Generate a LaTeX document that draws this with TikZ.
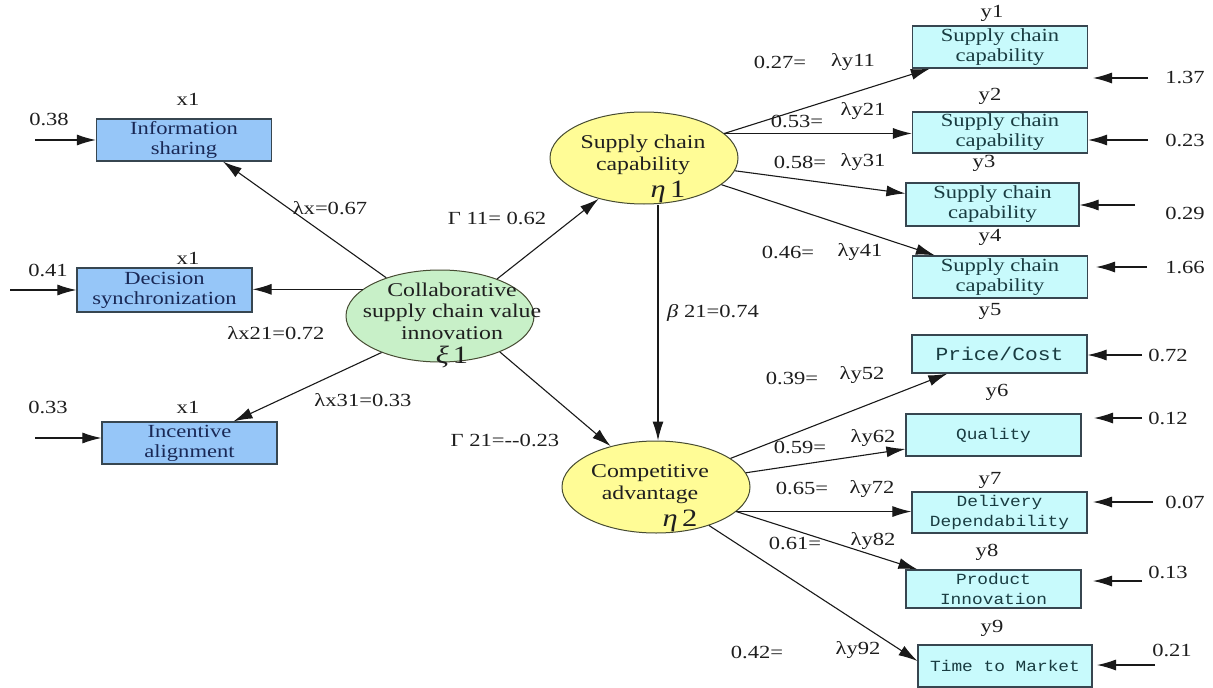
\documentclass[tikz,border=0pt]{standalone}
\usepackage{fontspec}
\setmainfont{Liberation Serif}[FakeStretch=1.22]
\newfontfamily\boxmono{Liberation Mono}[FakeStretch=1.15]
\usetikzlibrary{arrows.meta,shapes.geometric,calc}

\definecolor{xblue}{RGB}{150,198,248}
\definecolor{ycyan}{RGB}{200,250,252}
\definecolor{xigreen}{RGB}{200,240,200}
\definecolor{etayellow}{RGB}{255,252,150}
\definecolor{boxedge}{RGB}{55,70,80}
\definecolor{ovaledge}{RGB}{70,75,50}
\definecolor{labelgray}{RGB}{30,30,30}
\definecolor{xtext}{RGB}{25,40,85}
\definecolor{ytext}{RGB}{25,60,65}

\tikzset{
  lbl/.style={font=\fontsize{18.5}{20}\selectfont, text=labelgray, inner sep=0pt},
  xbox/.style={draw=boxedge, line width=1.2pt, fill=xblue, align=center,
    text=xtext, font=\fontsize{18.5}{20}\selectfont, inner sep=0pt, minimum width=175pt},
  ybox/.style={draw=boxedge, line width=1.2pt, fill=ycyan, align=center,
    text=ytext, font=\fontsize{18.5}{20}\selectfont, inner sep=0pt, minimum width=175pt},
  ymono/.style={ybox, font=\boxmono\fontsize{15.5}{20}\selectfont},
  latent/.style={ellipse, draw=ovaledge, line width=1pt, minimum width=188pt,
    minimum height=92pt, inner sep=0pt},
  ovaltext/.style={align=center, text=black!88, font=\fontsize{19.5}{21.5}\selectfont, inner sep=0pt},
  greek/.style={text=black!88, font=\fontsize{25}{26}\selectfont, inner sep=0pt},
  link/.style={-{Latex[length=19pt,width=11pt]}, line width=1.1pt, draw=black!90},
}

\begin{document}
\begin{tikzpicture}[x=1pt, y=-1pt]
\useasboundingbox[fill=white] (0,0) rectangle (1213,688);

% latent variables
\node[latent, fill=xigreen]   (xi1)  at (440,316) {};
\node[latent, fill=etayellow] (eta1) at (644,158) {};
\node[latent, fill=etayellow] (eta2) at (656,487) {};
\node[ovaltext] (xi1t)  at (452,311) {Collaborative\\supply chain value\\innovation};
\node[greek]    (xi1g)  at (452,357) {\textit{ξ}\,1};
\node[ovaltext] (eta1t) at (643,155) {Supply chain\\capability};
\node[greek]    (eta1g) at (668,192) {\textit{η}\,1};
\node[ovaltext] (eta2t) at (650,484) {Competitive\\advantage};
\node[greek]    (eta2g) at (680,521) {\textit{η}\,2};

% exogenous indicators
\node[xbox, minimum height=42pt] (xs1) at (184,140)   {Information\\sharing};
\node[xbox, minimum height=44pt] (xs2) at (164.5,290) {Decision\\synchronization};
\node[xbox, minimum height=42pt] (xs3) at (189.5,443) {Incentive\\alignment};
\node[lbl] (xl1) at (188,99)  {x1};
\node[lbl] (xl2) at (188,258) {x1};
\node[lbl] (xl3) at (188,407) {x1};

% endogenous indicators
\node[ybox, minimum height=42pt] (b1) at (1000,47)    {Supply chain\\capability};
\node[ybox, minimum height=41pt] (b2) at (1000,132.5) {Supply chain\\capability};
\node[ybox, minimum height=43pt, minimum width=173pt] (b3) at (992.5,204.5) {Supply chain\\capability};
\node[ybox, minimum height=42pt] (b4) at (1000,277)   {Supply chain\\capability};
\node[ymono, minimum height=38pt, font=\boxmono\fontsize{18.5}{20}\selectfont] (b5) at (999.5,354) {Price/Cost};
\node[ymono, minimum height=42pt] (b6) at (993.5,435)  {Quality};
\node[ymono, minimum height=41pt] (b7) at (999.5,512.5) {Delivery\\Dependability};
\node[ymono, minimum height=38pt] (b8) at (993.5,589)  {Product\\Innovation};
\node[ymono, minimum height=42pt, minimum width=174pt] (b9) at (1005,666) {Time to Market};
\node[lbl] (yl1) at (992,13)  {y1};
\node[lbl] (yl2) at (990,96)  {y2};
\node[lbl] (yl3) at (984,163) {y3};
\node[lbl] (yl4) at (990,237) {y4};
\node[lbl] (yl5) at (990,311) {y5};
\node[lbl] (yl6) at (997,392) {y6};
\node[lbl] (yl7) at (990,480) {y7};
\node[lbl] (yl8) at (987,552) {y8};
\node[lbl] (yl9) at (992,628) {y9};

% structural paths
\draw[link] (xi1.33)  -- (eta1.222);
\draw[link] (xi1.329) -- (eta2.138);
\draw[link] ([xshift=14pt]eta1.south) -- ([xshift=14pt]eta1.south |- eta2.north);

% measurement paths, exogenous side
\draw[link] (xi1) -- ([xshift=39pt]xs1.south);
\draw[link] (xi1.161.5) -- (xi1.161.5 -| xs2.east);
\draw[link] (xi1.212) -- ([xshift=44pt]xs3.north);

% measurement paths, endogenous side
\draw[link] (eta1.17)  -- ([xshift=18pt]b1.south west);
\draw[link] (eta1.17)  -- (eta1.17 -| b2.west);
\draw[link] (eta1.352) -- ([yshift=11pt]b3.west);
\draw[link] (eta1.341) -- ([xshift=23pt]b4.north west);
\draw[link] (eta2.21.5) -- ([xshift=36pt]b5.south west);
\draw[link] (eta2.9)   -- ([yshift=-14pt]b6.west);
\draw[link] (eta2.343) -- (eta2.343 -| b7.west);
\draw[link] (eta2.343) -- ([xshift=12pt]b8.north west);
\draw[link] (eta2.324.5) -- ([yshift=5pt]b9.west);

% error terms, exogenous side
\coordinate (ex1) at (35,140);
\coordinate (ex2) at (10,290);
\coordinate (ex3) at (35,438);
\draw[link] (ex1) -- (ex1 -| xs1.west);
\draw[link] (ex2) -- (ex2 -| xs2.west);
\draw[link] (ex3) -- (ex3 -| xs3.west);
\node[lbl] (ev1) at (49,119) {0.38};
\node[lbl] (ev2) at (48,270) {0.41};
\node[lbl] (ev3) at (48,407) {0.33};

% error terms, endogenous side
\coordinate (ey1) at (1148,78);  \coordinate (ey1t) at (1093,78);
\coordinate (ey2) at (1148,140);
\coordinate (ey3) at (1135,205);
\coordinate (ey4) at (1147,267); \coordinate (ey4t) at (1096,267);
\coordinate (ey5) at (1142,355);
\coordinate (ey6) at (1142,418); \coordinate (ey6t) at (1094,418);
\coordinate (ey7) at (1153,502); \coordinate (ey7t) at (1093,502);
\coordinate (ey8) at (1142,581); \coordinate (ey8t) at (1093,581);
\coordinate (ey9) at (1155,665); \coordinate (ey9t) at (1097,665);
\draw[link] (ey1) -- (ey1t);
\draw[link] (ey2) -- (ey2 -| b2.east);
\draw[link] (ey3) -- (ey3 -| b3.east);
\draw[link] (ey4) -- (ey4t);
\draw[link] (ey5) -- (ey5 -| b5.east);
\draw[link] (ey6) -- (ey6t);
\draw[link] (ey7) -- (ey7t);
\draw[link] (ey8) -- (ey8t);
\draw[link] (ey9) -- (ey9t);
\node[lbl] (er1) at (1185,78)  {1.37};
\node[lbl] (er2) at (1185,140) {0.23};
\node[lbl] (er3) at (1185,213) {0.29};
\node[lbl] (er4) at (1185,268) {1.66};
\node[lbl] (er5) at (1168,355) {0.72};
\node[lbl] (er6) at (1168,418) {0.12};
\node[lbl] (er7) at (1185,502) {0.07};
\node[lbl] (er8) at (1168,572) {0.13};
\node[lbl] (er9) at (1172,650) {0.21};

% path coefficients
\node[lbl] (c1) at (330,208) {λx=0.67};
\node[lbl] (c2) at (276,333) {λx21=0.72};
\node[lbl] (c3) at (363,400) {λx31=0.33};
\node[lbl] (g1) at (497,218) {Γ 11= 0.62};
\node[lbl] (bt) at (713,313) {\textit{β} 21=0.74};
\node[lbl] (g2) at (505,440) {Γ 21=-{}-0.23};

\node[lbl] (k1a) at (780,62)  {0.27=};  \node[lbl] (k1b) at (853,62)  {λy11};
\node[lbl] (k2a) at (797,121) {0.53=};  \node[lbl] (k2b) at (863,111) {λy21};
\node[lbl] (k3a) at (800,162) {0.58=};  \node[lbl] (k3b) at (863,162) {λy31};
\node[lbl] (k4a) at (788,252) {0.46=};  \node[lbl] (k4b) at (860,252) {λy41};
\node[lbl] (k5a) at (792,378) {0.39=};  \node[lbl] (k5b) at (862,375) {λy52};
\node[lbl] (k6a) at (800,447) {0.59=};  \node[lbl] (k6b) at (873,438) {λy62};
\node[lbl] (k7a) at (802,488) {0.65=};  \node[lbl] (k7b) at (872,489) {λy72};
\node[lbl] (k8a) at (795,543) {0.61=};  \node[lbl] (k8b) at (873,541) {λy82};
\node[lbl] (k9a) at (757,652) {0.42=};  \node[lbl] (k9b) at (858,650) {λy92};
\end{tikzpicture}
\end{document}
